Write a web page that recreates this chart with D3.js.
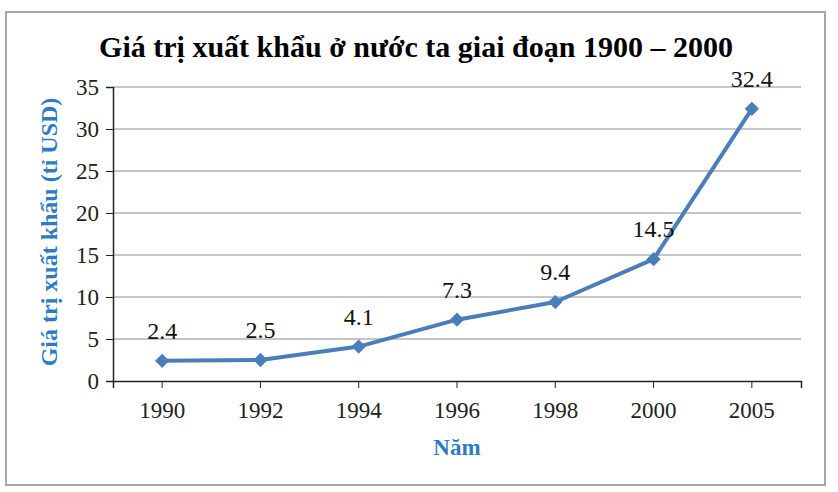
<!DOCTYPE html>
<html>
<head>
<meta charset="utf-8">
<script src="https://cdn.jsdelivr.net/npm/d3@7"></script>
<style>
  body { margin: 0; background: #fff; }
  svg text { font-family: "Liberation Serif", "Times New Roman", serif; }
</style>
</head>
<body>
<svg id="drawing_region"></svg>
<script>
const years = ["1990", "1992", "1994", "1996", "1998", "2000", "2005"];
const values = [2.4, 2.5, 4.1, 7.3, 9.4, 14.5, 32.4];
const yTicks = [0, 5, 10, 15, 20, 25, 30, 35];

const titleText = "Giá trị xuất khẩu ở nước ta giai đoạn 1900 – 2000";
const yLabelText = "Giá trị xuất khẩu (tỉ USD)";
const xLabelText = "Năm";

const config = {
    width: 838,
    height: 492,
    margin: {top: 87, right: 37, bottom: 111, left: 113}
};

const serif = "'Liberation Serif', 'Times New Roman', serif";
const blue = "#4A7EBB";
const labelBlue = "#2E7BC4";

const svg = d3.select("#drawing_region")
    .attr("width", config.width)
    .attr("height", config.height);

// chart frame
svg.append("rect")
    .attr("x", 6).attr("y", 12)
    .attr("width", 819).attr("height", 473)
    .attr("fill", "#fff")
    .attr("stroke", "#a6a6a6")
    .attr("stroke-width", 2);

const inner_width = config.width - config.margin.left - config.margin.right;
const inner_height = config.height - config.margin.top - config.margin.bottom;

const chart = svg.append("g")
    .attr("transform", `translate(${config.margin.left}, ${config.margin.top})`);

const xscale = d3.scaleBand()
    .domain(years)
    .range([0, inner_width]);

const yscale = d3.scaleLinear()
    .domain([0, 35])
    .range([inner_height, 0]);

const xc = d => xscale(d) + xscale.bandwidth() / 2;

// gridlines
chart.append("g")
    .selectAll("line")
    .data(yTicks.filter(t => t > 0))
    .join("line")
    .attr("x1", 0).attr("x2", inner_width)
    .attr("y1", d => yscale(d)).attr("y2", d => yscale(d))
    .attr("stroke", "#8c8c8c")
    .attr("stroke-width", 1);

// y axis
const yaxis = d3.axisLeft(yscale)
    .tickValues(yTicks)
    .tickSize(7)
    .tickPadding(7);

const yaxis_group = chart.append("g").call(yaxis)
    .attr("font-family", serif);
yaxis_group.select(".domain").attr("stroke", "#222").attr("stroke-width", 1.5);
yaxis_group.selectAll(".tick line").attr("stroke", "#222");
yaxis_group.selectAll("text")
    .attr("font-size", "23px")
    .attr("fill", "#222");

// x axis
const xaxis = d3.axisBottom(xscale)
    .tickSize(7)
    .tickSizeOuter(7)
    .tickPadding(14);

const xaxis_group = chart.append("g")
    .attr("transform", `translate(0, ${inner_height})`)
    .call(xaxis)
    .attr("font-family", serif);
xaxis_group.select(".domain").attr("stroke", "#222").attr("stroke-width", 1.5);
xaxis_group.selectAll(".tick line").attr("stroke", "#222");
xaxis_group.selectAll("text")
    .attr("font-size", "23px")
    .attr("fill", "#222");

// line
const line = d3.line()
    .x((d, i) => xc(years[i]))
    .y(d => yscale(d));

chart.append("path")
    .datum(values)
    .attr("d", line)
    .attr("fill", "none")
    .attr("stroke", blue)
    .attr("stroke-width", 4)
    .attr("stroke-linejoin", "round");

chart.selectAll(".marker")
    .data(values)
    .join("path")
    .attr("class", "marker")
    .attr("d", d3.symbol().type(d3.symbolDiamond2).size(130))
    .attr("transform", (d, i) => `translate(${xc(years[i])}, ${yscale(d)})`)
    .attr("fill", blue);

// data labels
chart.selectAll(".dlabel")
    .data(values)
    .join("text")
    .attr("class", "dlabel")
    .attr("x", (d, i) => xc(years[i]))
    .attr("y", d => yscale(d) - 22)
    .attr("text-anchor", "middle")
    .attr("font-size", "24px")
    .attr("fill", "#111")
    .text(d => d.toFixed(1));

// title and axis labels
svg.append("text")
    .attr("x", 416)
    .attr("y", 57)
    .attr("text-anchor", "middle")
    .attr("font-size", "30px")
    .attr("font-weight", "bold")
    .attr("fill", "#000")
    .text(titleText);

svg.append("text")
    .attr("transform", `translate(57, ${config.margin.top + inner_height / 2 - 2}) rotate(-90)`)
    .attr("text-anchor", "middle")
    .attr("font-size", "24px")
    .attr("font-weight", "bold")
    .attr("fill", labelBlue)
    .text(yLabelText);

svg.append("text")
    .attr("x", config.margin.left + inner_width / 2)
    .attr("y", 455)
    .attr("text-anchor", "middle")
    .attr("font-size", "23px")
    .attr("font-weight", "bold")
    .attr("fill", labelBlue)
    .text(xLabelText);
</script>
</body>
</html>
